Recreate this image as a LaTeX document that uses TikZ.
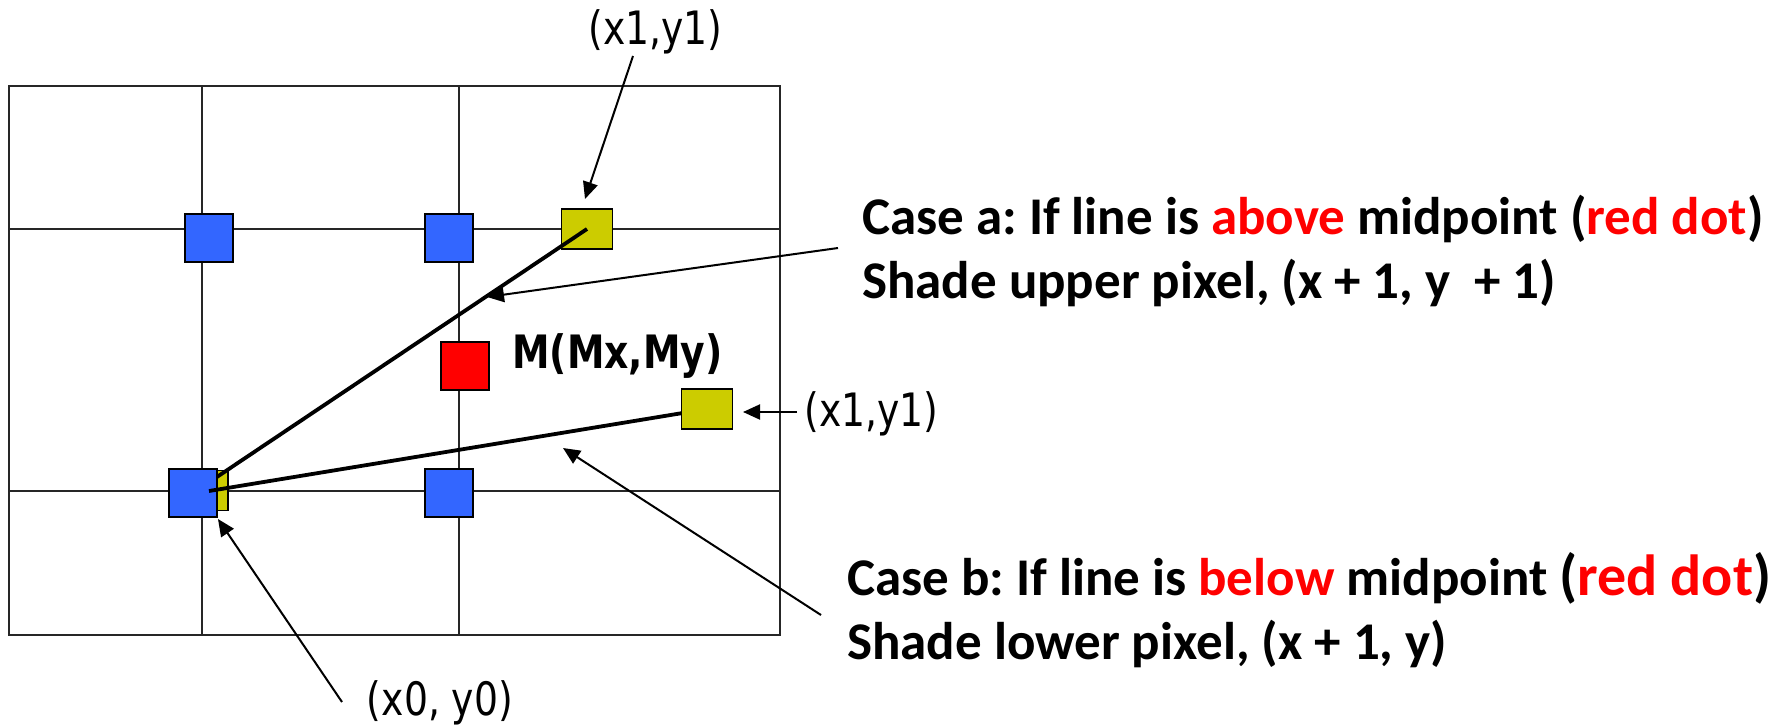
\documentclass[tikz,border=0pt]{standalone}
\usepackage{fontspec}
\setmainfont{Carlito}
\newfontfamily\lblfont[FakeStretch=0.82]{DejaVu Sans}
\usetikzlibrary{arrows.meta}
\definecolor{pixblue}{HTML}{3366FF}
\definecolor{pixyellow}{HTML}{CCCC00}
\definecolor{pixred}{HTML}{FF0000}
\frenchspacing
\tikzset{
  gridline/.style={line width=2pt, draw=black!85},
  pix/.style={draw=black, line width=1.8pt, inner sep=0pt, minimum width=48pt, minimum height=48pt},
  bluepix/.style={pix, fill=pixblue},
  redpix/.style={pix, fill=pixred},
  yelpix/.style={pix, fill=pixyellow, minimum width=51pt, minimum height=40pt},
  thickline/.style={line width=3.8pt},
  pointer/.style={line width=2pt, -{Triangle[length=17pt,width=15pt]}},
  lbl/.style={inner sep=0pt, anchor=base, font=\lblfont\fontsize{46}{50}\selectfont},
  lblbold/.style={inner sep=0pt, anchor=base, font=\lblfont\bfseries\fontsize{46}{50}\selectfont},
  casetxt/.style={inner sep=0pt, anchor=base west, font=\bfseries\fontsize{53}{64}\selectfont\frenchspacing}
}
\begin{document}
\begin{tikzpicture}[x=1pt,y=-1pt]
\useasboundingbox (0,0) rectangle (1790,726);
% grid
\draw[gridline] (9,86) rectangle (780,635);
\draw[gridline] (202,86) -- (202,635);
\draw[gridline] (459,86) -- (459,635);
\draw[gridline] (9,229) -- (780,229);
\draw[gridline] (9,491) -- (780,491);
% yellow pixels (upper end and start)
\node[yelpix] (yt) at (587,229) {};
\node[yelpix] (ys) at (202.5,490.5) {};
% line a
\coordinate (c3) at (193,493);
\draw[thickline] (c3) -- (yt.center);
% blue and red pixels
\node[bluepix] (b1) at (209,238) {};
\node[bluepix] (b2) at (449,238) {};
\node[bluepix] (b3) at (c3) {};
\node[bluepix] (b4) at (449,493) {};
\node[redpix] (m) at (465,366) {};
% line b
\coordinate (bs) at (209,491);
\coordinate (cyr) at (707,409);
\draw[thickline] (bs) -- (cyr);
\node[yelpix] (yr) at (cyr) {};
% labels
\node[lbl] (ltop) at (655.5,44) {(x1,y1)};
\node[lbl] (lright) at (871.5,426) {(x1,y1)};
\node[lbl] (lbot) at (440,715) {(x0, y0)};
\node[lblbold] (lm) at (617.5,368) {M(Mx,My)};
% case texts
\node[casetxt] (ca1) at (862,234) {Case a: If line is \textcolor{pixred}{above} midpoint (\textcolor{pixred}{red dot})};
\node[casetxt] (ca2) at (862,298) {Shade upper pixel, (x + 1, y\ \ + 1)};
\node[casetxt] (cb1) at (847,595) {Case b: If line is \textcolor{pixred}{below} midpoint {\fontsize{58}{64}\selectfont(\textcolor{pixred}{red dot})}};
\node[casetxt] (cb2) at (847,659) {Shade lower pixel, (x + 1, y)};
% pointers
\coordinate (p1s) at (633,56);   \coordinate (p1e) at (585,199);
\coordinate (p2s) at (838,248);  \coordinate (p2e) at (487,297);
\coordinate (p3s) at (797,412);  \coordinate (p3e) at (743,412);
\coordinate (p4s) at (821,615);  \coordinate (p4e) at (563,448);
\coordinate (p5s) at (342,702);  \coordinate (p5e) at (218,519);
\draw[pointer] (p1s) -- (p1e);
\draw[pointer] (p2s) -- (p2e);
\draw[pointer] (p3s) -- (p3e);
\draw[pointer] (p4s) -- (p4e);
\draw[pointer] (p5s) -- (p5e);
\end{tikzpicture}
\end{document}
